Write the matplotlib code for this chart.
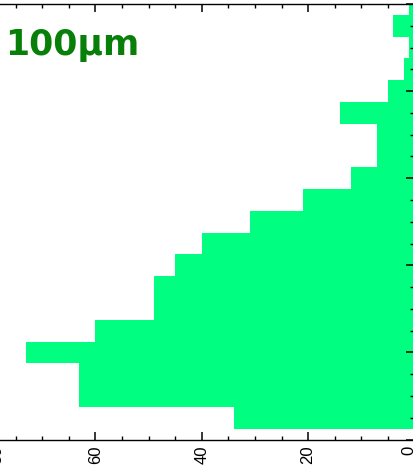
import matplotlib
matplotlib.use("Agg")
import matplotlib.pyplot as plt
from matplotlib.ticker import MultipleLocator
from matplotlib.transforms import ScaledTranslation

# Size classes (bin centres) and the number of counts in each
size_bins = [0, 5, 10, 15, 20, 25, 30, 35, 40, 45, 50,
             55, 60, 65, 70, 75, 80, 85, 90, 95, 100]
counts = [0, 34, 63, 63, 73, 60, 49, 49, 45, 40, 31,
          21, 12, 7, 7, 14, 5, 2, 1, 4, 1]
bin_width = 5

count_ticks = [80, 60, 40, 20, 0]
count_tick_labels = ["80", "60", "40", "20", "0"]
scale_label = "100µm"

plt.rcParams["font.family"] = ["Liberation Sans", "DejaVu Sans"]

fig = plt.figure(figsize=(4.13, 4.66), dpi=100)
W, H = 413, 466
# axes extend past the left edge of the canvas; x = 0 sits at the right edge
right_px, bottom_px, top_px = 414.5, 439.5, 4.0
xmax_val = 90
px_per_unit = 5.32
left_px = right_px - xmax_val * px_per_unit
ax = fig.add_axes([left_px / W, (H - bottom_px) / H,
                   (right_px - left_px) / W, (bottom_px - top_px) / H])

ax.barh(size_bins, counts, height=bin_width, color="#00ff80",
        edgecolor="none", align="center")

ax.set_xlim(xmax_val, 0)
ax.set_ylim(0, 100)

ax.set_xticks(count_ticks)
ax.set_xticklabels(count_tick_labels, rotation=90, fontsize=12)
ax.xaxis.set_minor_locator(MultipleLocator(5))
ax.yaxis.set_major_locator(MultipleLocator(20))
ax.yaxis.set_minor_locator(MultipleLocator(5))

ax.tick_params(which="both", direction="in", top=True, bottom=True,
               left=True, right=True, labelleft=False, labelright=False,
               color="black")
ax.tick_params(which="major", length=5.8, width=1.1, pad=4.5)
ax.tick_params(which="minor", length=2.8, width=1.0)
for sp in ax.spines.values():
    sp.set_linewidth(1.0)

# pull the two outermost count labels in towards the plot
nudges = {"80": 8, "0": -6}
for lab in ax.get_xticklabels():
    dx = nudges.get(lab.get_text(), 0)
    if dx:
        lab.set_transform(lab.get_transform()
                          + ScaledTranslation(dx / 100, 0, fig.dpi_scale_trans))

fig.text(5.5 / W, 1 - 55 / H, scale_label, color="#087f08",
         fontsize=25, fontweight="bold", family="DejaVu Sans",
         ha="left", va="baseline")

fig.savefig("out.png", dpi=100)
